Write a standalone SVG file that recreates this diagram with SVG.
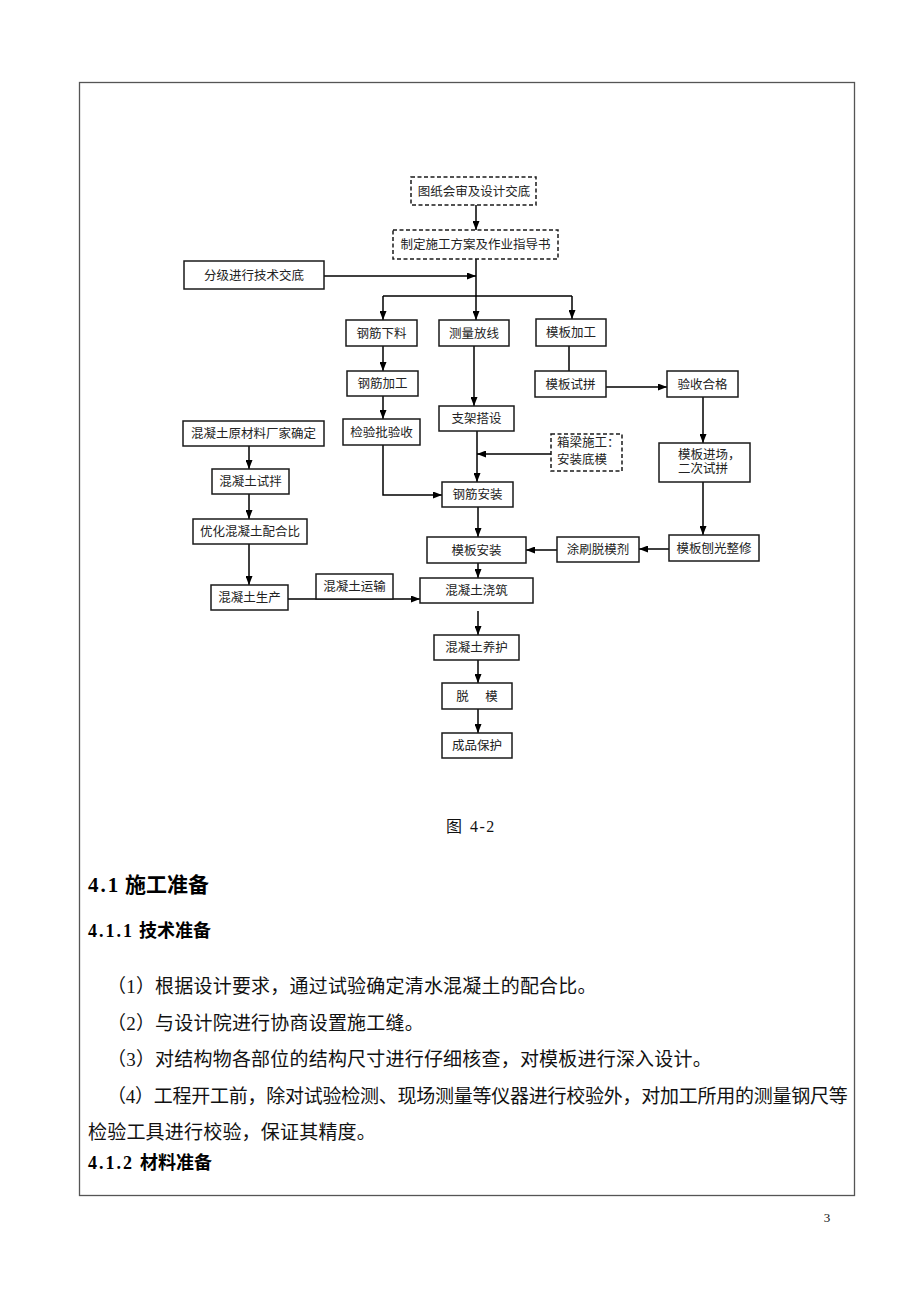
<svg xmlns="http://www.w3.org/2000/svg" width="920" height="1302" viewBox="0 0 920 1302">
<style>
.box{fill:#fff;stroke:#1a1a1a;stroke-width:1.5}
.dbox{fill:#fff;stroke:#1a1a1a;stroke-width:1.5;stroke-dasharray:4 2.5}
.lbl{font-family:"Liberation Serif","Noto Sans CJK SC",sans-serif;font-size:12.5px;fill:#222;text-anchor:middle}
.lbll{font-family:"Liberation Serif","Noto Sans CJK SC",sans-serif;font-size:12.5px;fill:#222}
.ln{stroke:#000;stroke-width:1.5;fill:none}
.ar{stroke:#000;stroke-width:1.5;fill:none;marker-end:url(#ah)}
.body{font-family:"Liberation Serif","Noto Sans CJK SC",serif;font-size:19px;letter-spacing:0.2px;fill:#111}
.h{font-family:"Liberation Serif","Noto Sans CJK SC",serif;font-weight:bold;fill:#000}
</style>
<defs>
<marker id="ah" markerWidth="9" markerHeight="7" refX="9" refY="3.5" orient="auto" markerUnits="userSpaceOnUse">
<path d="M0,0 L9,3.5 L0,7 z" fill="#000"/>
</marker>
</defs>
<rect width="920" height="1302" fill="#fff"/>
<rect id="page-border" x="79.5" y="82.5" width="775" height="1113" fill="none" stroke="#555" stroke-width="1.3"/>

<g id="connectors">
<line class="ar" x1="476" y1="205" x2="476" y2="230"/>
<line class="ln" x1="476" y1="259" x2="476" y2="296"/>
<line class="ln" x1="383" y1="296" x2="572" y2="296"/>
<line class="ar" x1="383" y1="296" x2="383" y2="320"/>
<line class="ar" x1="476" y1="296" x2="476" y2="320"/>
<line class="ar" x1="572" y1="296" x2="572" y2="319"/>
<line class="ar" x1="324" y1="276" x2="476" y2="276"/>
<line class="ar" x1="383" y1="346" x2="383" y2="371"/>
<line class="ar" x1="383" y1="396" x2="383" y2="419"/>
<line class="ar" x1="474" y1="346" x2="474" y2="406"/>
<line class="ar" x1="477" y1="431" x2="477" y2="482"/>
<line class="ar" x1="551" y1="454" x2="477" y2="454"/>
<polyline class="ar" points="383,445 383,495 442,495"/>
<line class="ar" x1="478" y1="507" x2="478" y2="537"/>
<line class="ar" x1="557" y1="550" x2="526" y2="550"/>
<line class="ar" x1="669" y1="549" x2="639" y2="549"/>
<line class="ln" x1="569" y1="346" x2="569" y2="371"/>
<line class="ar" x1="606" y1="387" x2="667" y2="387"/>
<line class="ar" x1="703" y1="397" x2="703" y2="443"/>
<line class="ar" x1="703" y1="482" x2="703" y2="535"/>
<line class="ar" x1="249" y1="446" x2="249" y2="469"/>
<line class="ar" x1="249" y1="494" x2="249" y2="519"/>
<line class="ar" x1="249" y1="544" x2="249" y2="585"/>
<line class="ar" x1="288" y1="599" x2="420" y2="599"/>
<line class="ar" x1="478" y1="563" x2="478" y2="578"/>
<line class="ar" x1="478" y1="611" x2="478" y2="635"/>
<line class="ar" x1="478" y1="660" x2="478" y2="683"/>
<line class="ar" x1="478" y1="709" x2="478" y2="733"/>
</g>

<g id="n1"><rect class="dbox" x="411" y="177" width="125" height="28"/><text class="lbl" x="474" y="195.5">图纸会审及设计交底</text></g>
<g id="n2"><rect class="dbox" x="393" y="230" width="165" height="29"/><text class="lbl" x="475.5" y="249">制定施工方案及作业指导书</text></g>
<g id="n3"><rect class="box" x="184" y="261" width="140" height="28"/><text class="lbl" x="254" y="279.5">分级进行技术交底</text></g>
<g id="n4"><rect class="box" x="346" y="320" width="71" height="26"/><text class="lbl" x="381.5" y="337.5">钢筋下料</text></g>
<g id="n5"><rect class="box" x="439" y="320" width="70" height="26"/><text class="lbl" x="474" y="337.5">测量放线</text></g>
<g id="n6"><rect class="box" x="536" y="319" width="70" height="27"/><text class="lbl" x="571" y="337">模板加工</text></g>
<g id="n7"><rect class="box" x="347" y="371" width="71" height="25"/><text class="lbl" x="382.5" y="388">钢筋加工</text></g>
<g id="n8"><rect class="box" x="343" y="419" width="77" height="26"/><text class="lbl" x="381.5" y="436.5">检验批验收</text></g>
<g id="n9"><rect class="box" x="439" y="406" width="75" height="25"/><text class="lbl" x="476.5" y="423">支架搭设</text></g>
<g id="n10"><rect class="dbox" x="551" y="434" width="71" height="37"/><text class="lbll" x="557" y="446.5">箱梁施工：</text><text class="lbll" x="557" y="464">安装底模</text></g>
<g id="n11"><rect class="box" x="442" y="482" width="71" height="25"/><text class="lbl" x="477.5" y="499">钢筋安装</text></g>
<g id="n12"><rect class="box" x="427" y="537" width="99" height="26"/><text class="lbl" x="476.5" y="554.5">模板安装</text></g>
<g id="n13"><rect class="box" x="557" y="537" width="82" height="25"/><text class="lbl" x="598" y="554">涂刷脱模剂</text></g>
<g id="n14"><rect class="box" x="669" y="535" width="90" height="26"/><text class="lbl" x="714" y="552.5">模板刨光整修</text></g>
<g id="n15"><rect class="box" x="535" y="371" width="71" height="26"/><text class="lbl" x="570.5" y="388.5">模板试拼</text></g>
<g id="n16"><rect class="box" x="667" y="371" width="71" height="26"/><text class="lbl" x="702.5" y="388.5">验收合格</text></g>
<g id="n17"><rect class="box" x="659" y="443" width="91" height="39"/><text class="lbll" x="678" y="459">模板进场，</text><text class="lbll" x="678" y="473">二次试拼</text></g>
<g id="n18"><rect class="box" x="183" y="421" width="141" height="25"/><text class="lbl" x="253.5" y="438">混凝土原材料厂家确定</text></g>
<g id="n19"><rect class="box" x="212" y="469" width="77" height="25"/><text class="lbl" x="250.5" y="486">混凝土试拌</text></g>
<g id="n20"><rect class="box" x="193" y="519" width="114" height="25"/><text class="lbl" x="250" y="536">优化混凝土配合比</text></g>
<g id="n21"><rect class="box" x="211" y="585" width="77" height="25"/><text class="lbl" x="249.5" y="602">混凝土生产</text></g>
<g id="n22"><rect class="box" x="316" y="574" width="77" height="25"/><text class="lbl" x="354.5" y="591">混凝土运输</text></g>
<g id="n23"><rect class="box" x="420" y="578" width="113" height="25"/><text class="lbl" x="476.5" y="595">混凝土浇筑</text></g>
<g id="n24"><rect class="box" x="434" y="635" width="85" height="25"/><text class="lbl" x="476.5" y="652">混凝土养护</text></g>
<g id="n25"><rect class="box" x="442" y="683" width="70" height="26"/><text class="lbl" x="478" y="700.5" xml:space="preserve" style="letter-spacing:2px">脱　模</text></g>
<g id="n26"><rect class="box" x="442" y="733" width="70" height="25"/><text class="lbl" x="477" y="750">成品保护</text></g>

<g id="text">
<text x="446" y="832" style="font-family:'Liberation Serif','Noto Sans CJK SC',serif;font-size:16px;fill:#111">图<tspan x="470" style="letter-spacing:1.5px">4-2</tspan></text>
<text class="h" x="88" y="892" style="font-size:21px"><tspan style="letter-spacing:2px">4.1</tspan><tspan x="125">施工准备</tspan></text>
<text class="h" x="88" y="937" style="font-size:18px"><tspan style="letter-spacing:2px">4.1.1</tspan><tspan x="139">技术准备</tspan></text>
<text class="body" x="107" y="993">（1）根据设计要求，通过试验确定清水混凝土的配合比。</text>
<text class="body" x="107" y="1029.5">（2）与设计院进行协商设置施工缝。</text>
<text class="body" x="107" y="1066">（3）对结构物各部位的结构尺寸进行仔细核查，对模板进行深入设计。</text>
<text class="body" x="107" y="1102.5" textLength="741" lengthAdjust="spacing">（4）工程开工前，除对试验检测、现场测量等仪器进行校验外，对加工所用的测量钢尺等</text>
<text class="body" x="88" y="1139">检验工具进行校验，保证其精度。</text>
<text class="h" x="88" y="1169" style="font-size:18px"><tspan style="letter-spacing:2px">4.1.2</tspan><tspan x="140">材料准备</tspan></text>
<text x="827" y="1222" style="font-family:'Liberation Serif',serif;font-size:13px;fill:#111;text-anchor:middle">3</text>
</g>
</svg>
